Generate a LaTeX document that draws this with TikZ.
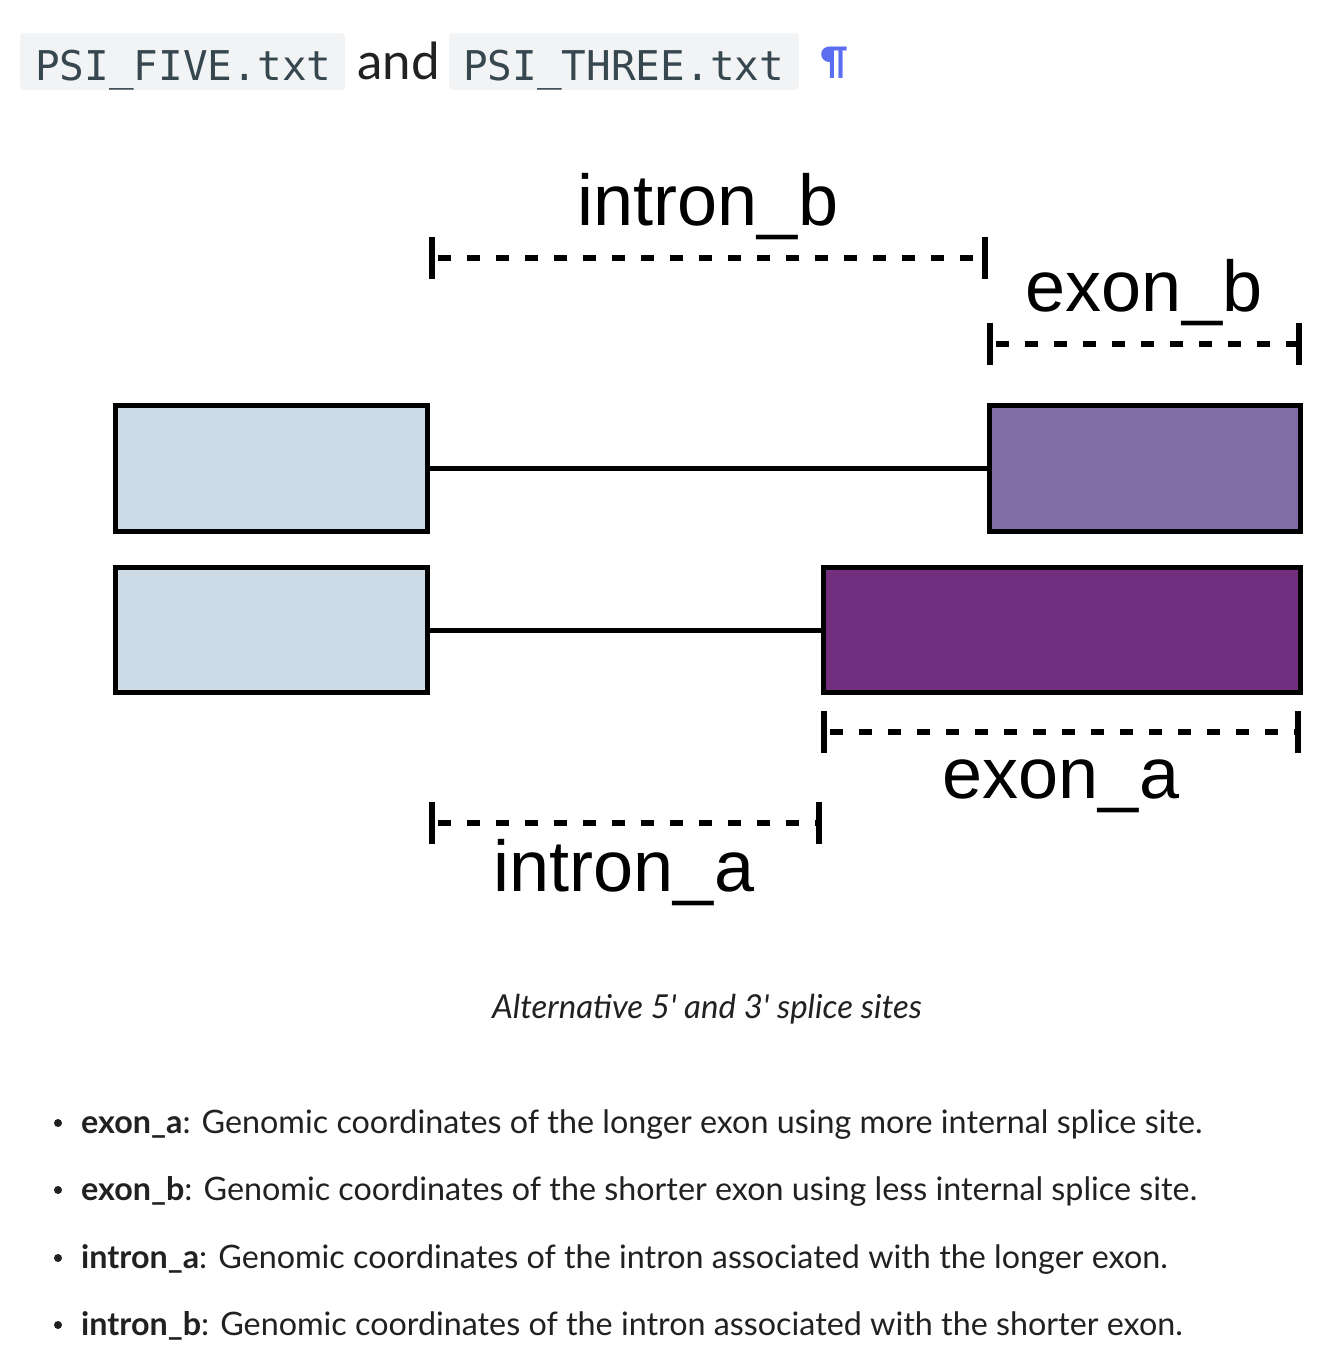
\documentclass[tikz,border=0pt]{standalone}
\usepackage{fontspec}
\usetikzlibrary{calc}
\newfontfamily\bodyfont{Lato}
\newfontfamily\labfont{Liberation Sans}
\newfontfamily\codefont{DejaVu Sans Mono}
\definecolor{codebg}{HTML}{F1F3F4}
\definecolor{codefg}{HTML}{37474F}
\definecolor{pilc}{HTML}{5B6EF2}
\definecolor{lightbox}{HTML}{CDDBE7}
\definecolor{midpurple}{HTML}{826CA5}
\definecolor{darkpurple}{HTML}{722F80}
\definecolor{bodyfg}{HTML}{212121}
\tikzset{
  codebox/.style={fill=codebg, rounded corners=4pt, inner sep=0pt, outer sep=0pt, draw=none},
  codetext/.style={text=codefg, font=\codefont\fontsize{41}{48}\selectfont, inner sep=0pt, anchor=base west},
  exonbox/.style={draw=black, line width=5pt, inner sep=0pt, outer sep=0pt, minimum height=126pt},
  joinline/.style={draw=black, line width=5pt},
  dashline/.style={draw=black, line width=5.5pt, dash pattern=on 13pt off 16pt, dash phase=-6pt},
  tickline/.style={draw=black, line width=5.5pt},
  seglabel/.style={font=\labfont\fontsize{72}{86}\selectfont, inner sep=0pt, anchor=base},
  bodytext/.style={text=bodyfg, font=\bodyfont\fontsize{32.3}{38}\selectfont, inner sep=0pt, anchor=base west},
  bulletdot/.style={circle, fill=bodyfg, inner sep=0pt, minimum size=8pt}
}
\begin{document}
\begin{tikzpicture}[x=1pt,y=-1pt]
\useasboundingbox (0,0) rectangle (1342,1360);
\fill[white] (0,0) rectangle (1342,1360);

% header
\node[codebox, minimum width=325pt, minimum height=57pt] (cb1) at (182.5,61.5) {};
\node[codetext] (ct1) at (35,80) {PSI\_FIVE.txt};
\node[text=bodyfg, font=\bodyfont\fontsize{51}{58}\selectfont, inner sep=0pt, anchor=base west] (and) at (357,79) {and};
\node[codebox, minimum width=350pt, minimum height=57pt] (cb2) at (624,61.5) {};
\node[codetext] (ct2) at (463,80) {PSI\_THREE.txt};
\node[text=pilc, font=\bodyfont\bfseries\fontsize{38}{44}\selectfont, inner sep=0pt, anchor=base west] (pil) at (820,74) {¶};

% exons
\node[exonbox, fill=lightbox, minimum width=312pt] (L1) at (271.5,468.5) {};
\node[exonbox, fill=midpurple, minimum width=311pt] (R1) at (1145,468.5) {};
\node[exonbox, fill=lightbox, minimum width=312pt, minimum height=125pt] (L2) at (271.5,630) {};
\node[exonbox, fill=darkpurple, minimum width=477pt, minimum height=125pt] (R2) at (1062,630) {};
\draw[joinline] (L1.east) -- (R1.west);
\draw[joinline] (L2.east) -- (R2.west);

% brackets
\coordinate (ib1) at (432,258); \coordinate (ib2) at (985,258);
\coordinate (eb1) at (990,344); \coordinate (eb2) at (1299,344);
\coordinate (ea1) at (824,732); \coordinate (ea2) at (1298,732);
\coordinate (ia1) at (432,823); \coordinate (ia2) at (819,823);
\foreach \a/\b in {ib1/ib2, eb1/eb2, ea1/ea2, ia1/ia2}{
  \draw[dashline] (\a) -- (\b);
  \draw[tickline] ($(\a)+(0,-21)$) -- ($(\a)+(0,21)$);
  \draw[tickline] ($(\b)+(0,-21)$) -- ($(\b)+(0,21)$);
}

% labels
\node[seglabel] (lib) at (708,225) {intron\_b};
\node[seglabel] (leb) at (1144,311) {exon\_b};
\node[seglabel] (lea) at (1061,798) {exon\_a};
\node[seglabel] (lia) at (624,891) {intron\_a};

% caption
\node[text=bodyfg, font=\bodyfont\itshape\fontsize{33}{40}\selectfont, inner sep=0pt, anchor=base] (cap) at (707,1018) {Alternative 5' and 3' splice sites};

% bullets
\node[bulletdot] (d1) at (58,1123) {};
\node[bodytext] (b1) at (81,1133) {\textbf{exon\_a}: Genomic coordinates of the longer exon using more internal splice site.};
\node[bulletdot] (d2) at (58,1190) {};
\node[bodytext] (b2) at (81,1200) {\textbf{exon\_b}: Genomic coordinates of the shorter exon using less internal splice site.};
\node[bulletdot] (d3) at (58,1258) {};
\node[bodytext] (b3) at (81,1268) {\textbf{intron\_a}: Genomic coordinates of the intron associated with the longer exon.};
\node[bulletdot] (d4) at (58,1325) {};
\node[bodytext] (b4) at (81,1335) {\textbf{intron\_b}: Genomic coordinates of the intron associated with the shorter exon.};
\end{tikzpicture}
\end{document}
